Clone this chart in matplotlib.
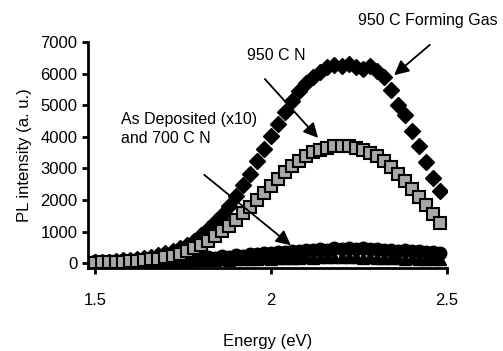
import matplotlib.pyplot as plt

plt.rcParams['font.family'] = ['Liberation Sans', 'DejaVu Sans']

# Энергия (эВ)
energy = [1.50, 1.52, 1.54, 1.56, 1.58, 1.60, 1.62, 1.64, 1.66, 1.68,
          1.70, 1.72, 1.74, 1.76, 1.78, 1.80, 1.82, 1.84, 1.86, 1.88,
          1.90, 1.92, 1.94, 1.96, 1.98, 2.00, 2.02, 2.04, 2.06, 2.08,
          2.10, 2.12, 2.14, 2.16, 2.18, 2.20, 2.22, 2.24, 2.26, 2.28,
          2.30, 2.32, 2.34, 2.36, 2.38, 2.40, 2.42, 2.44, 2.46, 2.48]

# 950 C Forming Gas
forming_gas = [30, 40, 50, 70, 90, 110, 140, 170, 210, 260,
               320, 390, 480, 590, 720, 880, 1070, 1290, 1540, 1820,
               2130, 2470, 2840, 3230, 3630, 4030, 4420, 4800, 5150, 5450,
               5700, 5900, 6050, 6200, 6280, 6250, 6300, 6200, 6150, 6250,
               6100, 5900, 5500, 5000, 4700, 4200, 3700, 3200, 2700, 2300]

# 950 C N
n950 = [20, 25, 30, 40, 50, 60, 75, 95, 120, 150,
        190, 240, 300, 380, 470, 580, 710, 850, 1010, 1190,
        1380, 1580, 1790, 2010, 2230, 2450, 2670, 2880, 3070, 3240,
        3390, 3510, 3600, 3660, 3700, 3720, 3700, 3660, 3590, 3500,
        3380, 3230, 3050, 2840, 2610, 2360, 2100, 1830, 1560, 1280]

# As Deposited (x10)
as_dep = [60, 50, 80, 60, 90, 70, 100, 90, 120, 100,
          130, 120, 150, 140, 170, 160, 190, 180, 220, 200,
          250, 240, 280, 300, 320, 330, 360, 350, 390, 400,
          420, 410, 450, 430, 470, 460, 480, 450, 470, 440,
          450, 420, 430, 400, 410, 380, 390, 360, 370, 340]

# 700 C N
n700 = [30, 20, 40, 30, 50, 40, 60, 50, 70, 60,
        80, 70, 90, 80, 100, 90, 110, 100, 120, 110,
        130, 120, 140, 150, 160, 150, 170, 160, 180, 170,
        190, 180, 200, 190, 210, 200, 190, 200, 180, 190,
        170, 180, 160, 170, 150, 160, 140, 150, 130, 140]

fig = plt.figure(figsize=(5.03, 3.51), dpi=100)
ax = fig.add_axes([0.175, 0.2365, 0.714, 0.6435])

ax.plot(energy, n700, linestyle='none', marker='^', markersize=8,
        markerfacecolor='black', markeredgecolor='black')
ax.plot(energy, as_dep, linestyle='none', marker='o', markersize=9,
        color='black')
ax.plot(energy, forming_gas, linestyle='none', marker='D', markersize=8,
        color='black', markeredgecolor='black')
ax.plot(energy, n950, linestyle='none', marker='s', markersize=9,
        markerfacecolor='#a8a8a8', markeredgecolor='black', markeredgewidth=1.5)

ax.set_xlim(1.48, 2.5)
ax.set_ylim(-150, 7000)
ax.set_xticks([1.5, 2, 2.5])
ax.set_xticklabels(['1.5', '2', '2.5'])
ax.set_yticks(range(0, 7001, 1000))

for s in ['top', 'right']:
    ax.spines[s].set_visible(False)
for s in ['left', 'bottom']:
    ax.spines[s].set_linewidth(2)
ax.tick_params(width=2, length=4, labelsize=12, direction='out')
ax.tick_params(axis='x', pad=14)

ax.set_xlabel('Energy (eV)', fontsize=12, labelpad=19)
ax.set_ylabel('PL intensity (a. u.)', fontsize=12, labelpad=6)

arrow = dict(arrowstyle='-|>', color='black', lw=1.3, mutation_scale=22)
ax.annotate('950 C Forming Gas', xy=(392, 274), xycoords='figure pixels',
            xytext=(358, 331), textcoords='figure pixels', fontsize=11.5,
            ha='left', va='center', annotation_clip=False)
ax.annotate('', xy=(392, 274), xycoords='figure pixels',
            xytext=(432, 308), textcoords='figure pixels', arrowprops=arrow)
ax.annotate('950 C N', xy=(247, 296), xycoords='figure pixels',
            fontsize=11.5, ha='left', va='center')
ax.annotate('', xy=(320, 211), xycoords='figure pixels',
            xytext=(263, 274), textcoords='figure pixels', arrowprops=arrow)
ax.annotate('As Deposited (x10)\nand 700 C N', xy=(121, 222),
            xycoords='figure pixels', fontsize=11.5, ha='left', va='center',
            linespacing=1.3)
ax.annotate('', xy=(293, 104), xycoords='figure pixels',
            xytext=(202, 178), textcoords='figure pixels', arrowprops=arrow)

plt.savefig('out.png', dpi=100)
